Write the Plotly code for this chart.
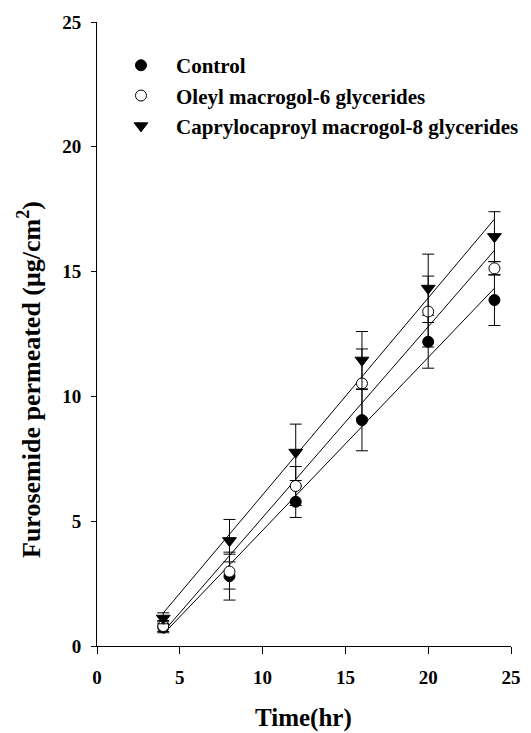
import numpy as np
import plotly.graph_objects as go

time_hr = [4, 8, 12, 16, 20, 24]
control = [0.75, 2.80, 5.78, 9.05, 12.19, 13.86]
control_err = [0.22, 0.96, 0.63, 1.23, 1.06, 1.02]
oleyl = [0.80, 2.98, 6.41, 10.52, 13.40, 15.13]
oleyl_err = [0.22, 0.70, 0.78, 1.38, 1.42, 0.27]
capryl = [1.11, 4.22, 7.76, 11.45, 14.33, 16.40]
capryl_err = [0.22, 0.85, 1.13, 1.15, 1.37, 1.00]
tick_vals = [0, 5, 10, 15, 20, 25]

series = [
    ("Control", control, control_err, dict(symbol="circle", size=11, color="black", line=dict(color="black", width=1))),
    ("Oleyl macrogol-6 glycerides", oleyl, oleyl_err, dict(symbol="circle", size=11, color="white", line=dict(color="black", width=1))),
    ("Caprylocaproyl macrogol-8 glycerides", capryl, capryl_err, dict(symbol="triangle-down", size=12, color="black", line=dict(color="black", width=1))),
]

FONT = "Liberation Serif, Times New Roman, serif"
fig = go.Figure()

# regression lines
for name, vals, err, mk in series:
    slope, icpt = np.polyfit(time_hr, vals, 1)
    xs = [time_hr[0], time_hr[-1]]
    fig.add_trace(go.Scatter(x=xs, y=[slope * v + icpt for v in xs], mode="lines",
                             line=dict(color="black", width=1), showlegend=False, hoverinfo="skip"))

for name, vals, err, mk in series:
    fig.add_trace(go.Scatter(x=time_hr, y=vals, mode="markers", name=name, marker=mk,
                             error_y=dict(type="data", array=err, visible=True, color="black",
                                          thickness=1, width=6)))

# page body has an 8px margin: figure is sized/offset to compensate
fig.update_layout(
    width=523, height=725,
    margin=dict(l=89, r=20, t=14, b=87, autoexpand=False),
    paper_bgcolor="white", plot_bgcolor="white",
    font=dict(family=FONT, color="black"),
    showlegend=True,
    legend=dict(x=0.0217, y=0.963, xanchor="left", yanchor="top", bgcolor="rgba(0,0,0,0)",
                font=dict(family=FONT, size=21, weight="bold"), tracegroupgap=0, itemwidth=60),
    xaxis=dict(range=[0, 25], tickvals=tick_vals, showgrid=False, zeroline=False,
               showline=True, linecolor="black", linewidth=1, ticks="outside", ticklen=7,
               tickcolor="black", tickfont=dict(family=FONT, size=19, weight="bold"), automargin=False,
               ticklabelstandoff=7),
    yaxis=dict(range=[0, 25], tickvals=tick_vals, showgrid=False, zeroline=False,
               showline=True, linecolor="black", linewidth=1, ticks="outside", ticklen=5,
               tickcolor="black", tickfont=dict(family=FONT, size=19, weight="bold"), automargin=False,
               ticklabelstandoff=6),
    annotations=[
        dict(text="<b>Time(hr)</b>", xref="paper", yref="paper", x=0.4976, y=-0.1154,
             xanchor="center", yanchor="middle", showarrow=False,
             font=dict(family=FONT, size=25, color="black")),
        dict(text="<b>Furosemide permeated (μg/cm<sup>2</sup>)</b>", xref="paper", yref="paper",
             x=-0.1618, y=0.4263, xanchor="center", yanchor="middle", textangle=-90, showarrow=False,
             font=dict(family=FONT, size=26, color="black")),
    ],
)

fig.write_html("out.html")
